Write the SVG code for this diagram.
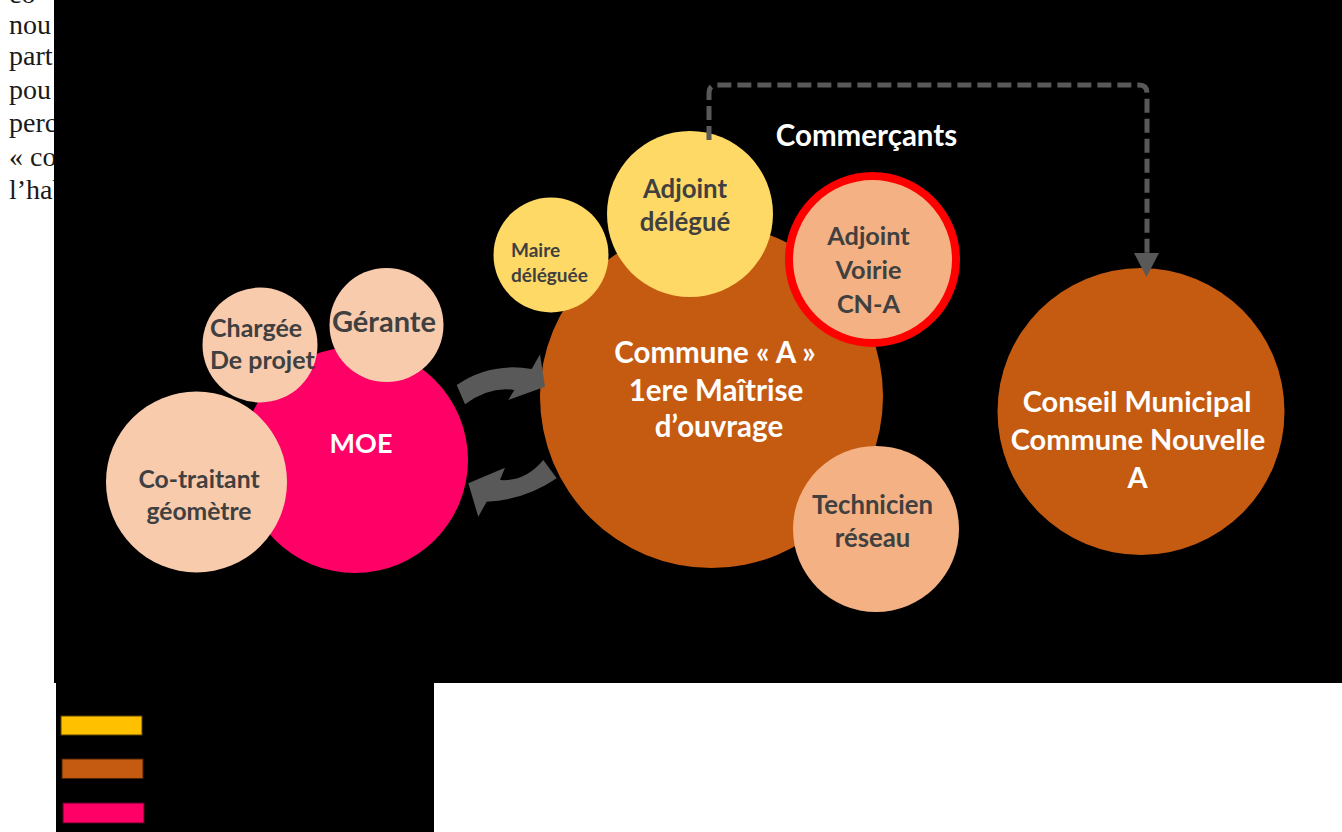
<svg xmlns="http://www.w3.org/2000/svg" width="1342" height="832" viewBox="0 0 1342 832">
<style>
.page{font-family:"Liberation Serif","DejaVu Serif",serif;font-size:28px;fill:#1a1a1a}
.lbl{font-family:Lato,"Open Sans","Liberation Sans",sans-serif;font-weight:700;text-anchor:middle}
.dk{fill:#404040}
.wh{fill:#ffffff}
.start{text-anchor:start}
.pink{fill:#FF0066}
.peach{fill:#F8CBAD}
.brown{fill:#C55A11}
.light{fill:#F4B183}
.yellow{fill:#FFD966}
.arrow{fill:#595959}
.dash{fill:none;stroke:#595959;stroke-width:5;stroke-dasharray:14 6}
</style>
<rect x="0" y="0" width="1342" height="832" fill="#ffffff"/>
<g id="page-text" class="page">
<text x="9" y="3">co</text>
<text x="9" y="34">nou</text>
<text x="9" y="65">part</text>
<text x="9" y="99">pou</text>
<text x="9" y="132">perc</text>
<text x="9" y="166">« co</text>
<text x="9" y="199">l’hab</text>
</g>
<rect id="backdrop" x="54" y="0" width="1288" height="683" fill="#000000"/>
<rect id="legend-box" x="56" y="683" width="378" height="149" fill="#000000"/>
<g id="legend">
<rect x="61" y="716" width="81" height="19" fill="#FFC000" stroke="#5a4300" stroke-width="1"/>
<rect x="62" y="759" width="81" height="19.5" fill="#C55A11" stroke="#4a2206" stroke-width="1"/>
<rect x="63" y="803" width="81" height="20" fill="#FF0066" stroke="#5a0024" stroke-width="1"/>
</g>
<g id="node-moe">
<circle class="pink" cx="355" cy="460" r="113"/>
<text class="lbl wh" x="361" y="453" font-size="27">MOE</text>
</g>
<g id="node-chargee">
<circle class="peach" cx="260" cy="345" r="57.5"/>
<text class="lbl dk start" x="210" y="337" font-size="25">Chargée</text>
<text class="lbl dk start" x="210" y="369" font-size="25">De projet</text>
</g>
<g id="node-gerante">
<circle class="peach" cx="386.5" cy="325" r="57"/>
<text class="lbl dk" x="384" y="332" font-size="29">Gérante</text>
</g>
<g id="node-cotraitant">
<circle class="peach" cx="196.5" cy="482" r="90.5"/>
<text class="lbl dk" x="199" y="488" font-size="24.7">Co-traitant</text>
<text class="lbl dk" x="199" y="520" font-size="24.7">géomètre</text>
</g>
<g id="node-commune">
<circle class="brown" cx="711.5" cy="396.5" r="171.5"/>
<text class="lbl wh" x="715" y="363" font-size="29.5">Commune « A »</text>
<text class="lbl wh" x="716" y="401" font-size="29.5">1ere Maîtrise</text>
<text class="lbl wh" x="719" y="437" font-size="29.5">d’ouvrage</text>
</g>
<g id="node-maire">
<circle class="yellow" cx="551" cy="255" r="57.5"/>
<text class="lbl dk start" x="511" y="257" font-size="19">Maire</text>
<text class="lbl dk start" x="511" y="282" font-size="19">déléguée</text>
</g>
<g id="node-adjoint-delegue">
<circle class="yellow" cx="690" cy="214" r="83"/>
<text class="lbl dk" x="685" y="198" font-size="25.8">Adjoint</text>
<text class="lbl dk" x="685" y="231" font-size="25.8">délégué</text>
</g>
<g id="node-adjoint-voirie">
<circle class="light" cx="872.5" cy="259.5" r="83.5" stroke="#FF0000" stroke-width="8"/>
<text class="lbl dk" x="868.5" y="245" font-size="25.3">Adjoint</text>
<text class="lbl dk" x="868.5" y="279" font-size="25.3">Voirie</text>
<text class="lbl dk" x="868.5" y="313" font-size="25.3">CN-A</text>
</g>
<g id="node-technicien">
<circle class="light" cx="876" cy="529" r="83"/>
<text class="lbl dk" x="872.5" y="514" font-size="25.7">Technicien</text>
<text class="lbl dk" x="872.5" y="547" font-size="25.7">réseau</text>
</g>
<g id="node-conseil">
<circle class="brown" cx="1141" cy="411.5" r="143.5"/>
<text class="lbl wh" x="1137" y="412" font-size="29">Conseil Municipal</text>
<text class="lbl wh" x="1138" y="450" font-size="29">Commune Nouvelle</text>
<text class="lbl wh" x="1137.5" y="488" font-size="29">A</text>
</g>
<g id="connectors">
<path class="arrow" d="M456.7,385 Q490,362 531.7,369 L540,354.3 L545,386.7 L508.3,400 L514.3,390 Q490,386 465,404.3 Z"/>
<path class="arrow" d="M543.3,460 L556.7,478.3 Q525,500 486.7,501.7 L478.3,516.7 L468.3,483.3 L505,467.7 L500,480 Q525,482 543.3,460 Z"/>
<path class="dash" d="M709,140 V93 Q709,85 717,85 H1139 Q1147,85 1147,93 V254"/>
<polygon class="arrow" points="1134,253 1159,253 1146.5,277"/>
<text class="lbl wh" x="866.5" y="146" font-size="29.5">Commerçants</text>
</g>
</svg>
